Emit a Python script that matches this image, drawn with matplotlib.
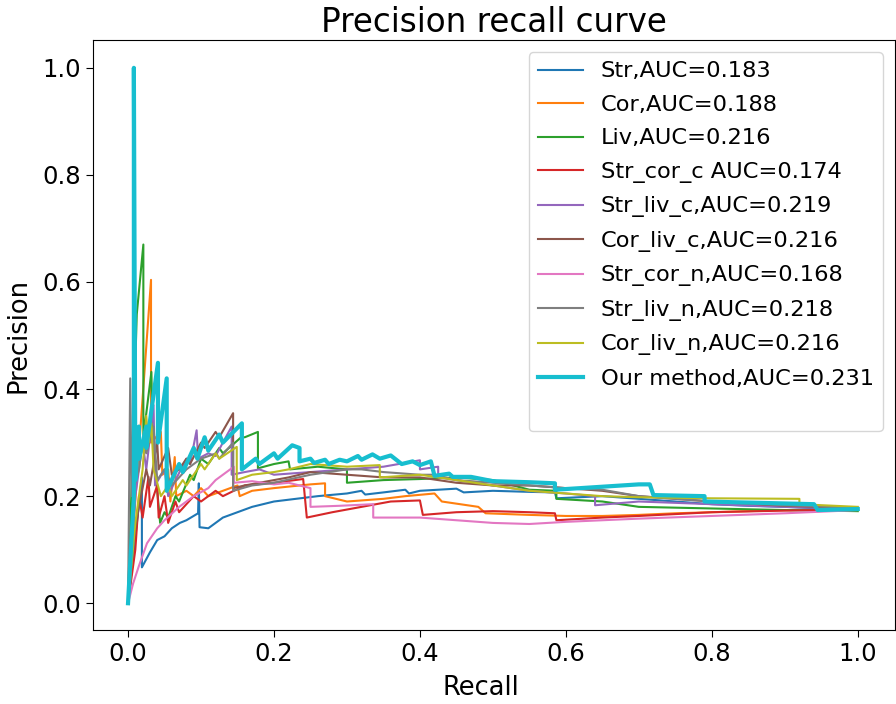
import matplotlib
matplotlib.use("Agg")
import matplotlib.pyplot as plt
from matplotlib.lines import Line2D

labels = ["Str,AUC=0.183", "Cor,AUC=0.188", "Liv,AUC=0.216", "Str_cor_c AUC=0.174",
          "Str_liv_c,AUC=0.219", "Cor_liv_c,AUC=0.216", "Str_cor_n,AUC=0.168",
          "Str_liv_n,AUC=0.218", "Cor_liv_n,AUC=0.216", "Our method,AUC=0.231"]

str_r = [0, 0.019, 0.019, 0.03, 0.04, 0.05, 0.06, 0.071, 0.08, 0.096, 0.097, 0.098, 0.11, 0.13, 0.15, 0.17,
         0.2, 0.23, 0.26, 0.3, 0.32, 0.325, 0.35, 0.38, 0.385, 0.4, 0.45, 0.46, 0.5, 0.55, 0.585, 0.587, 0.65, 0.7,
         0.75, 0.8, 0.85, 0.9, 0.95, 1.0]
str_p = [0, 0.235, 0.067, 0.095, 0.118, 0.125, 0.14, 0.15, 0.155, 0.168, 0.224, 0.142, 0.14, 0.16, 0.17, 0.18,
         0.19, 0.195, 0.2, 0.205, 0.21, 0.203, 0.207, 0.212, 0.205, 0.21, 0.214, 0.207, 0.21, 0.208, 0.207, 0.196,
         0.2, 0.195, 0.19, 0.185, 0.182, 0.18, 0.177, 0.175]

cor_r = [0, 0.0315, 0.0315, 0.045, 0.047, 0.055, 0.058, 0.064, 0.066, 0.08, 0.09, 0.1, 0.11, 0.13, 0.15, 0.153,
         0.17, 0.2, 0.25, 0.27, 0.27, 0.3, 0.35, 0.38, 0.42, 0.43, 0.48, 0.49, 0.55, 0.6, 0.65, 0.7, 0.75, 0.8,
         0.85, 0.9, 1.0]
cor_p = [0, 0.604, 0.30, 0.32, 0.24, 0.25, 0.19, 0.273, 0.2, 0.21, 0.2, 0.215, 0.2, 0.21, 0.22, 0.2,
         0.21, 0.215, 0.222, 0.224, 0.2, 0.19, 0.195, 0.2, 0.205, 0.19, 0.18, 0.168, 0.165, 0.163, 0.163, 0.165,
         0.168, 0.17, 0.172, 0.174, 0.175]

liv_r = [0, 0.012, 0.021, 0.021, 0.032, 0.034, 0.044, 0.05, 0.055, 0.065, 0.07, 0.085, 0.09, 0.1, 0.11, 0.125,
         0.13, 0.155, 0.16, 0.178, 0.178, 0.2, 0.22, 0.222, 0.26, 0.3, 0.3, 0.35, 0.4, 0.45, 0.5, 0.55, 0.587,
         0.587, 0.65, 0.7, 0.8, 0.9, 1.0]
liv_p = [0, 0.54, 0.67, 0.31, 0.432, 0.3, 0.15, 0.17, 0.16, 0.2, 0.19, 0.24, 0.23, 0.27, 0.26, 0.29,
         0.28, 0.31, 0.31, 0.32, 0.252, 0.26, 0.265, 0.25, 0.255, 0.25, 0.225, 0.23, 0.232, 0.235, 0.23, 0.212,
         0.21, 0.195, 0.19, 0.18, 0.177, 0.174, 0.172]

scc_r = [0, 0.01, 0.015, 0.02, 0.028, 0.03, 0.04, 0.042, 0.05, 0.055, 0.065, 0.07, 0.09, 0.1, 0.12, 0.13, 0.16,
         0.2, 0.24, 0.245, 0.28, 0.32, 0.36, 0.4, 0.404, 0.45, 0.5, 0.55, 0.585, 0.587, 0.65, 0.7, 0.8, 0.9, 1.0]
scc_p = [0, 0.1, 0.2, 0.16, 0.236, 0.18, 0.22, 0.16, 0.2, 0.15, 0.19, 0.17, 0.2, 0.19, 0.21, 0.2, 0.22,
         0.225, 0.232, 0.16, 0.17, 0.18, 0.19, 0.192, 0.165, 0.17, 0.172, 0.17, 0.168, 0.155, 0.16, 0.163, 0.17,
         0.173, 0.175]

slc_r = [0, 0.01, 0.02, 0.025, 0.035, 0.037, 0.05, 0.055, 0.065, 0.08, 0.085, 0.094, 0.096, 0.11, 0.12, 0.142,
         0.142, 0.16, 0.18, 0.2, 0.25, 0.3, 0.35, 0.4, 0.4, 0.425, 0.425, 0.5, 0.55, 0.6, 0.64, 0.64, 0.7, 0.8,
         0.9, 1.0]
slc_p = [0, 0.2, 0.3, 0.25, 0.37, 0.22, 0.25, 0.2, 0.23, 0.27, 0.26, 0.323, 0.27, 0.28, 0.275, 0.33,
         0.24, 0.245, 0.25, 0.24, 0.245, 0.25, 0.255, 0.267, 0.25, 0.255, 0.235, 0.22, 0.21, 0.205, 0.2, 0.183,
         0.19, 0.185, 0.18, 0.176]

clc_r = [0, 0.005, 0.015, 0.025, 0.03, 0.04, 0.042, 0.055, 0.06, 0.07, 0.08, 0.085, 0.1, 0.105, 0.12, 0.125,
         0.144, 0.144, 0.16, 0.18, 0.2, 0.22, 0.25, 0.3, 0.35, 0.4, 0.45, 0.5, 0.55, 0.6, 0.65, 0.7, 0.8, 0.9, 1.0]
clc_p = [0, 0.1, 0.18, 0.25, 0.22, 0.3, 0.25, 0.29, 0.24, 0.25, 0.27, 0.26, 0.3, 0.29, 0.32, 0.31,
         0.355, 0.215, 0.22, 0.225, 0.23, 0.235, 0.245, 0.24, 0.235, 0.235, 0.225, 0.22, 0.22, 0.215, 0.21, 0.2,
         0.19, 0.182, 0.178]

scn_r = [0, 0.007, 0.015, 0.026, 0.04, 0.05, 0.07, 0.09, 0.11, 0.12, 0.13, 0.145, 0.145, 0.17, 0.2, 0.22, 0.25,
         0.25, 0.29, 0.336, 0.336, 0.4, 0.45, 0.5, 0.55, 0.6, 0.65, 0.7, 0.8, 0.9, 1.0]
scn_p = [0, 0.037, 0.07, 0.112, 0.14, 0.155, 0.18, 0.2, 0.215, 0.23, 0.24, 0.255, 0.225, 0.228, 0.222, 0.225,
         0.215, 0.18, 0.182, 0.185, 0.16, 0.16, 0.155, 0.15, 0.148, 0.152, 0.155, 0.158, 0.163, 0.168, 0.174]

sln_r = [0, 0.003, 0.005, 0.015, 0.02, 0.025, 0.035, 0.04, 0.05, 0.06, 0.08, 0.1, 0.121, 0.125, 0.144, 0.144,
         0.17, 0.2, 0.25, 0.3, 0.32, 0.35, 0.4, 0.42, 0.45, 0.5, 0.55, 0.6, 0.65, 0.7, 0.8, 0.9, 1.0]
sln_p = [0, 0.42, 0.2, 0.25, 0.3, 0.28, 0.33, 0.23, 0.25, 0.22, 0.25, 0.27, 0.28, 0.27, 0.3, 0.21,
         0.22, 0.225, 0.24, 0.25, 0.25, 0.245, 0.24, 0.24, 0.23, 0.225, 0.22, 0.215, 0.212, 0.2, 0.19, 0.183, 0.178]

cln_r = [0, 0.01, 0.02, 0.025, 0.028, 0.032, 0.035, 0.045, 0.055, 0.06, 0.075, 0.08, 0.1, 0.105, 0.12, 0.125,
         0.149, 0.149, 0.17, 0.2, 0.22, 0.25, 0.3, 0.345, 0.345, 0.4, 0.45, 0.5, 0.55, 0.6, 0.65, 0.7, 0.8, 0.92,
         0.92, 1.0]
cln_p = [0, 0.15, 0.25, 0.35, 0.3, 0.336, 0.25, 0.2, 0.22, 0.2, 0.23, 0.22, 0.26, 0.25, 0.28, 0.27,
         0.292, 0.23, 0.24, 0.245, 0.25, 0.26, 0.255, 0.258, 0.235, 0.24, 0.23, 0.22, 0.21, 0.205, 0.2, 0.198,
         0.196, 0.195, 0.185, 0.18]

our_r = [0, 0.008, 0.008, 0.01, 0.015, 0.015, 0.025, 0.025, 0.041, 0.041, 0.053, 0.053, 0.07, 0.075, 0.09, 0.095,
         0.105, 0.11, 0.125, 0.13, 0.156, 0.156, 0.175, 0.18, 0.2, 0.205, 0.225, 0.235, 0.235, 0.25, 0.255, 0.27,
         0.275, 0.29, 0.3, 0.315, 0.32, 0.335, 0.345, 0.36, 0.375, 0.39, 0.4, 0.415, 0.42, 0.44, 0.445, 0.47,
         0.5, 0.55, 0.585, 0.585, 0.62, 0.70, 0.715, 0.72, 0.79, 0.79, 0.94, 0.945, 1.0]
our_p = [0, 0.2, 1.0, 0.23, 0.33, 0.27, 0.33, 0.29, 0.449, 0.30, 0.42, 0.21, 0.26, 0.245, 0.29, 0.27,
         0.31, 0.285, 0.315, 0.30, 0.336, 0.25, 0.27, 0.26, 0.28, 0.27, 0.295, 0.29, 0.265, 0.27, 0.262, 0.268,
         0.26, 0.268, 0.265, 0.275, 0.268, 0.278, 0.27, 0.276, 0.26, 0.265, 0.258, 0.265, 0.238, 0.242, 0.236,
         0.236, 0.228, 0.226, 0.224, 0.212, 0.215, 0.222, 0.222, 0.202, 0.2, 0.19, 0.185, 0.174, 0.176]

series = [(str_r, str_p), (cor_r, cor_p), (liv_r, liv_p), (scc_r, scc_p), (slc_r, slc_p),
          (clc_r, clc_p), (scn_r, scn_p), (sln_r, sln_p), (cln_r, cln_p), (our_r, our_p)]
colors = ["tab:blue", "tab:orange", "tab:green", "tab:red", "tab:purple",
          "tab:brown", "tab:pink", "tab:gray", "tab:olive", "tab:cyan"]

fig = plt.figure(figsize=(8.96, 7.04), dpi=100)
ax = fig.add_axes([93 / 896, 1 - 630 / 704, (895 - 93) / 896, (630 - 40) / 704])
for (r, p), c, lab in zip(series, colors, labels):
    lw = 3.0 if lab.startswith("Our") else 1.5
    ax.plot(r, p, color=c, lw=lw, label=lab)

ax.set_xlim(-0.048, 1.051)
ax.set_ylim(-0.05, 1.052)
ax.tick_params(labelsize=17.5, length=5)
ax.set_xlabel("Recall", fontsize=18.5)
ax.xaxis.set_label_coords(0.484, -0.077)
ax.set_ylabel("Precision", fontsize=18.5, labelpad=8)
ax.set_title("Precision recall curve", fontsize=23.5, pad=6)

handles, labs = ax.get_legend_handles_labels()
handles.append(Line2D([], [], color="none"))
labs.append(" ")
ax.legend(handles, labs, loc="upper right", fontsize=16.2, labelspacing=0.6,
          handlelength=2.0, borderaxespad=0.55)

fig.savefig("out.png", dpi=100)
